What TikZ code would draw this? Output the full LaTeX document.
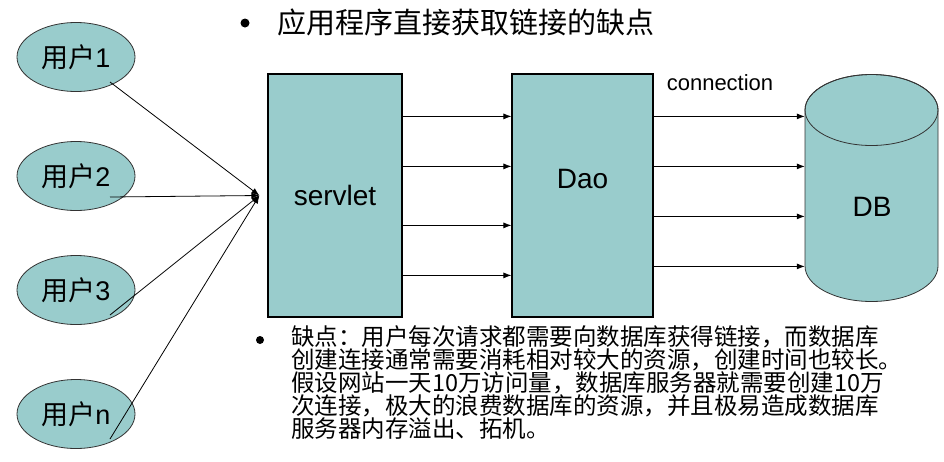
\documentclass[tikz,border=0pt]{standalone}
\usepackage{fontspec}
\setmainfont{Liberation Sans}
\newfontfamily\cjk{Noto Sans CJK SC}
\usepackage{tikz}
\usetikzlibrary{shapes}
\usetikzlibrary{shapes.geometric}
\usetikzlibrary{positioning}
\usetikzlibrary{calc}
\usetikzlibrary{arrows.meta}

\definecolor{tealfill}{RGB}{153,204,204}

\tikzset{
  user/.style={ellipse, draw=black!80, line width=0.8pt, fill=tealfill, minimum width=118pt, minimum height=69pt, inner sep=0pt, font=\fontsize{27}{27}\selectfont},
  block/.style={rectangle, draw, line width=1.2pt, fill=tealfill, minimum height=243pt, inner sep=0pt, font=\fontsize{28}{28}\selectfont},
  flow/.style={-{Latex[length=8pt,width=6pt]}, line width=0.8pt},
  bullet/.style={circle, fill, inner sep=0pt, minimum size=9pt}
}

\begin{document}
\begin{tikzpicture}[x=1pt, y=-1pt]
  \useasboundingbox (0,0) rectangle (944,461);

  \node[bullet] (b1) at (245,23) {};
  \node[anchor=west, inner sep=0pt, font=\fontsize{29}{29}\selectfont\cjk] (title) at (277,22) {应用程序直接获取链接的缺点};

  \node[user] (u1) at (76,57) {{\cjk 用户}1};
  \node[user] (u2) at (76,176) {{\cjk 用户}2};
  \node[user] (u3) at (76,290) {{\cjk 用户}3};
  \node[user] (un) at (76,414) {{\cjk 用户}n};

  \node[block, minimum width=134pt] (servlet) at (335,195.5) {servlet};
  \node[block, minimum width=141pt] (dao) at (582.5,195.5) {};
  \node[font=\fontsize{28}{28}\selectfont] (daolabel) at ($(dao.center)+(0,-17)$) {Dao};

  % database cylinder
  \path[draw=black!80, line width=0.8pt, fill=tealfill] (805,110) -- (805,266)
    arc[start angle=180, end angle=360, x radius=66.5pt, y radius=35.5pt] -- (938,110)
    arc[start angle=0, end angle=180, x radius=66.5pt, y radius=35.5pt] -- cycle;
  \draw[draw=black!80, line width=0.8pt] (871.5,110) ellipse[x radius=66.5pt, y radius=35.5pt];
  \node[minimum width=133pt, minimum height=156pt, inner sep=0pt] (db) at (871.5,188) {};
  \node[font=\fontsize{28}{28}\selectfont] (dblabel) at (872,207) {DB};

  \node[font=\fontsize{22}{22}\selectfont] (conn) at (720,83) {connection};

  % arrows
  \coordinate (hub) at ($(servlet.west)+(-8,0)$);
  \foreach \u/\dy in {u1/25, u2/21, u3/25, un/25}
    \draw[flow] ($(\u)+(34,\dy)$) -- (hub);

  \foreach \d in {43,93,152,202}
    \draw[flow] ($(servlet.north east)+(0,\d)$) coordinate (s) -- (s -| dao.west);

  \foreach \d in {43,93,143,193}
    \draw[flow] ($(dao.north east)+(0,\d)$) coordinate (s) -- (s -| db.west);

  \node[bullet, minimum size=8pt] (b2) at (260,340) {};
  \node[anchor=north west, inner sep=0pt, align=left, font=\fontsize{23.5}{23}\selectfont\cjk] (note) at (291,325)
    {缺点：用户每次请求都需要向数据库获得链接，而数据库\\
     创建连接通常需要消耗相对较大的资源，创建时间也较长。\\
     假设网站一天10万访问量，数据库服务器就需要创建10万\\
     次连接，极大的浪费数据库的资源，并且极易造成数据库\\
     服务器内存溢出、拓机。};
\end{tikzpicture}
\end{document}
